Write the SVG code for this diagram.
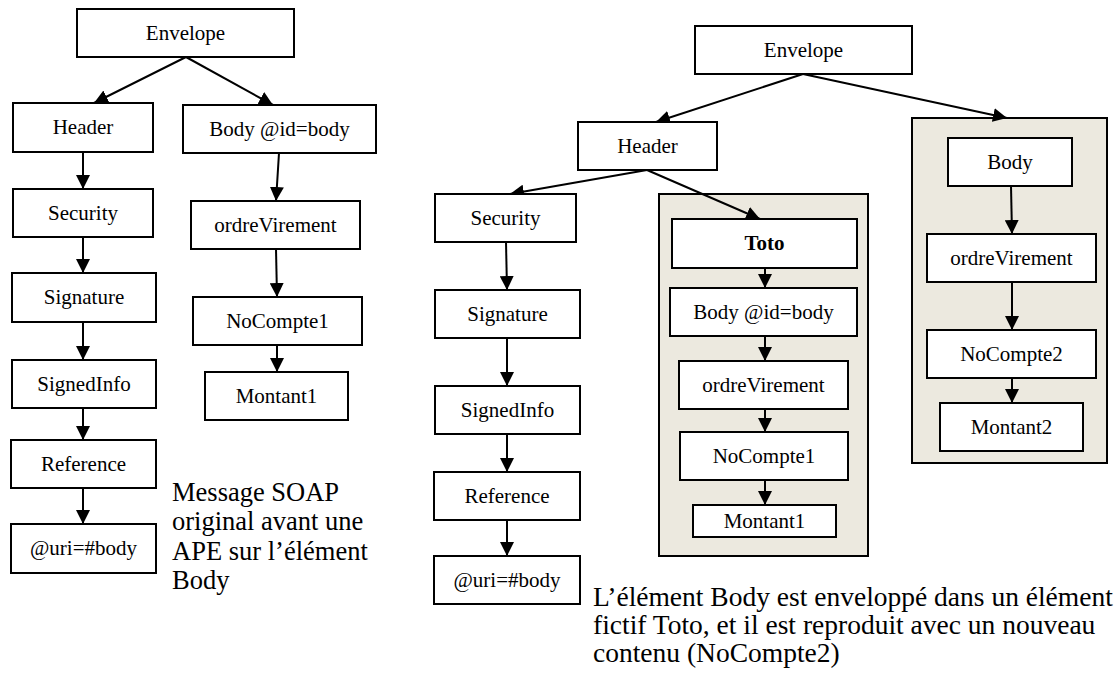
<svg xmlns="http://www.w3.org/2000/svg" width="1119" height="677" viewBox="0 0 1119 677">
  <defs>
    <marker id="arrow" markerUnits="userSpaceOnUse" markerWidth="14" markerHeight="14" refX="14" refY="7" orient="auto">
      <path d="M0,0 L14,7 L0,14 Z" fill="#000"/>
    </marker>
  </defs>
  <style>
    .box { fill: #fff; stroke: #000; stroke-width: 2; }
    .frame { fill: #ECE9DF; stroke: #000; stroke-width: 2; }
    .lbl { font-family: "Liberation Serif", "Times New Roman", serif; font-size: 21px; text-anchor: middle; fill: #000; }
    .bold { font-weight: bold; }
    .note { font-family: "Liberation Serif", "Times New Roman", serif; font-size: 26.5px; fill: #000; }
    .note-wide { font-size: 27.5px; }
    .edge { stroke: #000; stroke-width: 2; fill: none; marker-end: url(#arrow); }
  </style>

  <rect width="1119" height="677" fill="#fff"/>

  <!-- shaded containers (right tree) -->
  <g id="frame-toto"><rect class="frame" x="659" y="194" width="209" height="362"/></g>
  <g id="frame-body2"><rect class="frame" x="912" y="118" width="195" height="345"/></g>

  <!-- connectors -->
  <g id="connectors">
    <!-- left tree -->
    <line class="edge" x1="186" y1="57" x2="94" y2="103"/>
    <line class="edge" x1="186" y1="57" x2="273" y2="105"/>
    <line class="edge" x1="83" y1="152" x2="83" y2="189"/>
    <line class="edge" x1="83" y1="237" x2="83" y2="273"/>
    <line class="edge" x1="83" y1="322" x2="83" y2="360"/>
    <line class="edge" x1="83" y1="408" x2="83" y2="440"/>
    <line class="edge" x1="83" y1="488" x2="83" y2="524"/>
    <line class="edge" x1="279" y1="153" x2="276" y2="201"/>
    <line class="edge" x1="276" y1="249" x2="277" y2="297"/>
    <line class="edge" x1="277" y1="345" x2="277" y2="372"/>
    <!-- right tree -->
    <line class="edge" x1="803" y1="74" x2="656" y2="122"/>
    <line class="edge" x1="803" y1="74" x2="1007" y2="118"/>
    <line class="edge" x1="647" y1="170" x2="510" y2="194"/>
    <line class="edge" x1="647" y1="170" x2="760" y2="219"/>
    <line class="edge" x1="506" y1="242" x2="507" y2="290"/>
    <line class="edge" x1="507" y1="338" x2="507" y2="386"/>
    <line class="edge" x1="507" y1="434" x2="507" y2="472"/>
    <line class="edge" x1="507" y1="520" x2="507" y2="556"/>
    <line class="edge" x1="765" y1="268" x2="765" y2="288"/>
    <line class="edge" x1="765" y1="336" x2="765" y2="361"/>
    <line class="edge" x1="765" y1="409" x2="765" y2="432"/>
    <line class="edge" x1="765" y1="480" x2="765" y2="505"/>
    <line class="edge" x1="1011" y1="186" x2="1012" y2="234"/>
    <line class="edge" x1="1012" y1="282" x2="1012" y2="330"/>
    <line class="edge" x1="1012" y1="378" x2="1012" y2="403"/>
  </g>

  <!-- left tree nodes -->
  <g id="l-envelope"><rect class="box" x="77" y="9" width="217" height="48"/><text class="lbl" x="185.5" y="40">Envelope</text></g>
  <g id="l-header"><rect class="box" x="13" y="103" width="140" height="49"/><text class="lbl" x="83" y="134">Header</text></g>
  <g id="l-body"><rect class="box" x="183" y="105" width="193" height="48"/><text class="lbl" x="279.5" y="136">Body @id=body</text></g>
  <g id="l-security"><rect class="box" x="13" y="189" width="140" height="48"/><text class="lbl" x="83" y="220">Security</text></g>
  <g id="l-ordre"><rect class="box" x="191" y="201" width="169" height="48"/><text class="lbl" x="275.5" y="232">ordreVirement</text></g>
  <g id="l-signature"><rect class="box" x="12" y="273" width="144" height="49"/><text class="lbl" x="84" y="304">Signature</text></g>
  <g id="l-nocompte1"><rect class="box" x="193" y="297" width="169" height="48"/><text class="lbl" x="277.5" y="328">NoCompte1</text></g>
  <g id="l-signedinfo"><rect class="box" x="12" y="360" width="144" height="48"/><text class="lbl" x="84" y="391">SignedInfo</text></g>
  <g id="l-montant1"><rect class="box" x="205" y="372" width="143" height="48"/><text class="lbl" x="276.5" y="403">Montant1</text></g>
  <g id="l-reference"><rect class="box" x="11" y="440" width="145" height="48"/><text class="lbl" x="83.5" y="471">Reference</text></g>
  <g id="l-uri"><rect class="box" x="11" y="524" width="145" height="49"/><text class="lbl" x="83.5" y="555">@uri=#body</text></g>

  <!-- right tree nodes -->
  <g id="r-envelope"><rect class="box" x="695" y="26" width="217" height="48"/><text class="lbl" x="803.5" y="57">Envelope</text></g>
  <g id="r-header"><rect class="box" x="578" y="122" width="139" height="48"/><text class="lbl" x="647.5" y="153">Header</text></g>
  <g id="r-security"><rect class="box" x="435" y="194" width="141" height="48"/><text class="lbl" x="505.5" y="225">Security</text></g>
  <g id="r-signature"><rect class="box" x="435" y="290" width="145" height="48"/><text class="lbl" x="507.5" y="321">Signature</text></g>
  <g id="r-signedinfo"><rect class="box" x="435" y="386" width="145" height="48"/><text class="lbl" x="507.5" y="417">SignedInfo</text></g>
  <g id="r-reference"><rect class="box" x="434" y="472" width="146" height="48"/><text class="lbl" x="507" y="503">Reference</text></g>
  <g id="r-uri"><rect class="box" x="434" y="556" width="146" height="48"/><text class="lbl" x="507" y="587">@uri=#body</text></g>

  <g id="r-toto"><rect class="box" x="672" y="219" width="185" height="49"/><text class="lbl bold" x="764.5" y="250">Toto</text></g>
  <g id="r-body-id"><rect class="box" x="670" y="288" width="187" height="48"/><text class="lbl" x="763.5" y="319">Body @id=body</text></g>
  <g id="r-ordre1"><rect class="box" x="679" y="361" width="169" height="48"/><text class="lbl" x="763.5" y="392">ordreVirement</text></g>
  <g id="r-nocompte1"><rect class="box" x="680" y="432" width="168" height="48"/><text class="lbl" x="764" y="463">NoCompte1</text></g>
  <g id="r-montant1"><rect class="box" x="693" y="505" width="143" height="32"/><text class="lbl" x="764.5" y="528">Montant1</text></g>

  <g id="r-body"><rect class="box" x="948" y="138" width="124" height="48"/><text class="lbl" x="1010" y="169">Body</text></g>
  <g id="r-ordre2"><rect class="box" x="927" y="234" width="169" height="48"/><text class="lbl" x="1011.5" y="265">ordreVirement</text></g>
  <g id="r-nocompte2"><rect class="box" x="927" y="330" width="169" height="48"/><text class="lbl" x="1011.5" y="361">NoCompte2</text></g>
  <g id="r-montant2"><rect class="box" x="940" y="403" width="143" height="48"/><text class="lbl" x="1011.5" y="434">Montant2</text></g>

  <!-- captions -->
  <g id="caption-left">
    <text class="note" x="172" y="501">Message SOAP</text>
    <text class="note" x="172" y="530">original avant une</text>
    <text class="note" x="172" y="560">APE sur l’élément</text>
    <text class="note" x="172" y="589">Body</text>
  </g>
  <g id="caption-right">
    <text class="note note-wide" x="593" y="606">L’élément Body est enveloppé dans un élément</text>
    <text class="note note-wide" x="593" y="634">fictif Toto, et il est reproduit avec un nouveau</text>
    <text class="note note-wide" x="593" y="662">contenu (NoCompte2)</text>
  </g>
</svg>
